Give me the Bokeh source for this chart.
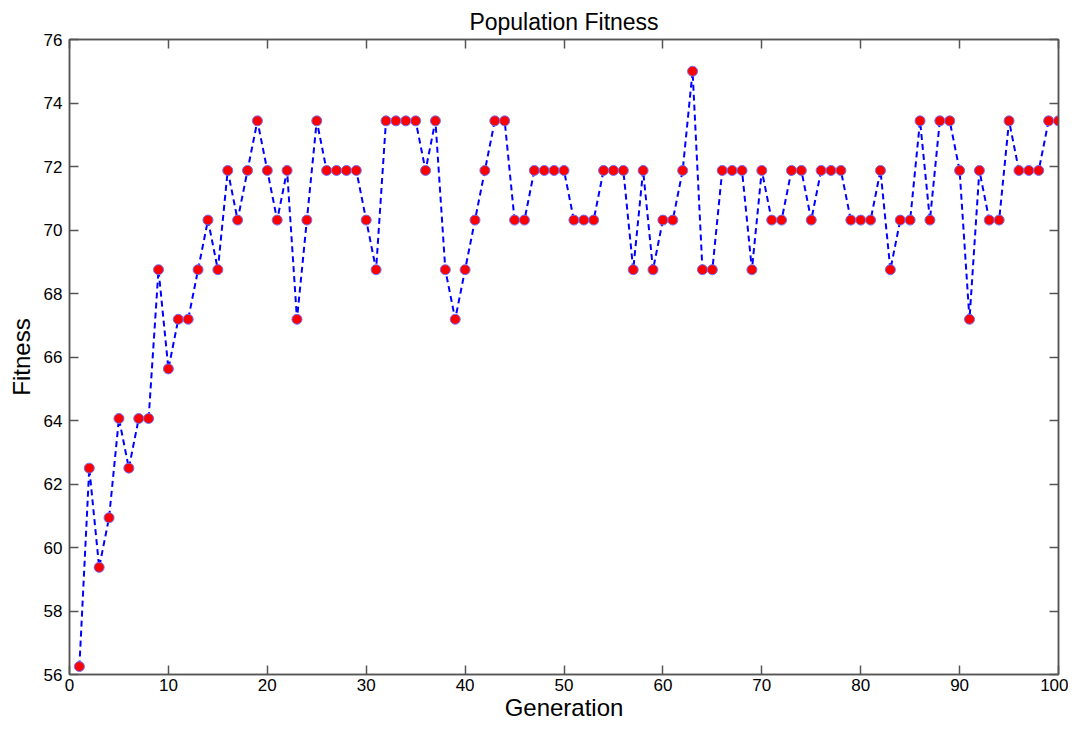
from bokeh.plotting import figure
from bokeh.models import LinearAxis, FixedTicker, ColumnDataSource
from bokeh.embed import file_html
from bokeh.resources import INLINE

generation = list(range(1, 101))
fitness = [
    56.25, 62.5, 59.375, 60.9375, 64.0625, 62.5, 64.0625, 64.0625, 68.75, 65.625,
    67.1875, 67.1875, 68.75, 70.3125, 68.75, 71.875, 70.3125, 71.875, 73.4375, 71.875,
    70.3125, 71.875, 67.1875, 70.3125, 73.4375, 71.875, 71.875, 71.875, 71.875, 70.3125,
    68.75, 73.4375, 73.4375, 73.4375, 73.4375, 71.875, 73.4375, 68.75, 67.1875, 68.75,
    70.3125, 71.875, 73.4375, 73.4375, 70.3125, 70.3125, 71.875, 71.875, 71.875, 71.875,
    70.3125, 70.3125, 70.3125, 71.875, 71.875, 71.875, 68.75, 71.875, 68.75, 70.3125,
    70.3125, 71.875, 75.0, 68.75, 68.75, 71.875, 71.875, 71.875, 68.75, 71.875,
    70.3125, 70.3125, 71.875, 71.875, 70.3125, 71.875, 71.875, 71.875, 70.3125, 70.3125,
    70.3125, 71.875, 68.75, 70.3125, 70.3125, 73.4375, 70.3125, 73.4375, 73.4375, 71.875,
    67.1875, 71.875, 70.3125, 70.3125, 73.4375, 71.875, 71.875, 71.875, 73.4375, 73.4375,
]
x_ticks = list(range(0, 101, 10))
y_ticks = list(range(56, 77, 2))

FONT = "Liberation Sans"
FRAME = "#555555"

src = ColumnDataSource(dict(x=generation, y=fitness))

p = figure(
    width=1068, height=723,
    x_range=(0, 100), y_range=(56, 76),
    output_backend="svg", toolbar_location=None,
    title="Population Fitness",
    min_border_left=69, min_border_right=10, min_border_top=39, min_border_bottom=42,
    x_axis_label="Generation", y_axis_label="Fitness",
)
p.background_fill_color = "white"
p.border_fill_color = "white"
p.outline_line_color = FRAME
p.outline_line_width = 1.5
p.grid.visible = False

p.title.align = "center"
p.title.text_font = FONT
p.title.text_font_size = "23px"
p.title.text_font_style = "normal"
p.title.text_color = "black"
p.title.offset = 0
p.title.standoff = 9

for ax in (p.xaxis[0], p.yaxis[0]):
    ax.axis_line_color = FRAME
    ax.axis_line_width = 1.5
    ax.major_tick_in = 9
    ax.major_tick_out = 0
    ax.major_tick_line_color = FRAME
    ax.major_tick_line_width = 1.5
    ax.minor_tick_line_color = None
    ax.major_label_text_font = FONT
    ax.major_label_text_font_size = "17px"
    ax.major_label_text_color = "black"
    ax.axis_label_text_font = FONT
    ax.axis_label_text_font_size = "24px"
    ax.axis_label_text_font_style = "normal"
    ax.axis_label_text_color = "black"

p.xaxis[0].ticker = FixedTicker(ticks=x_ticks)
p.yaxis[0].ticker = FixedTicker(ticks=y_ticks)
p.xaxis[0].major_label_standoff = 4
p.yaxis[0].major_label_standoff = 7
p.xaxis[0].axis_label_standoff = 0
p.yaxis[0].axis_label_standoff = 6

top = LinearAxis(ticker=FixedTicker(ticks=x_ticks))
right = LinearAxis(ticker=FixedTicker(ticks=y_ticks))
for ax in (top, right):
    ax.axis_line_color = FRAME
    ax.axis_line_width = 1.5
    ax.major_tick_in = 9
    ax.major_tick_out = 0
    ax.major_tick_line_color = FRAME
    ax.major_tick_line_width = 1.5
    ax.minor_tick_line_color = None
    ax.major_label_text_font_size = "1px"
    ax.major_label_text_color = None
    ax.major_label_standoff = 0
p.add_layout(top, "above")
p.add_layout(right, "right")

p.line("x", "y", source=src, line_color="#0000ff", line_width=2, line_dash="6 4")
p.scatter("x", "y", source=src, marker="circle", size=10,
          fill_color="#ff0000", line_color="#7070ff", line_width=1)

open("out.html", "w").write(file_html(p, INLINE))
